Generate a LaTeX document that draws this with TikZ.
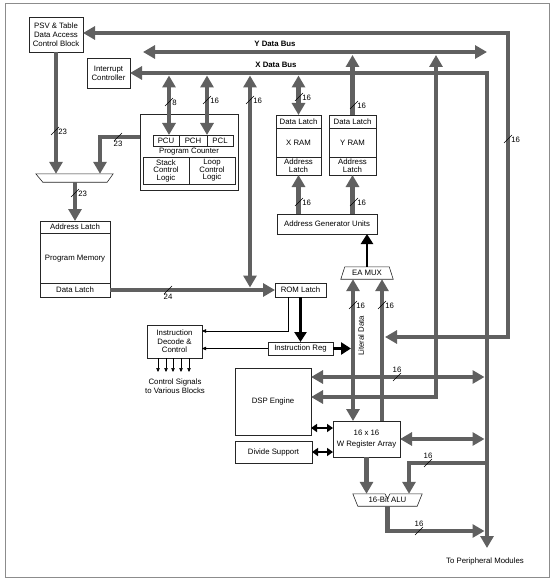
\documentclass[tikz,border=0pt]{standalone}
\usepackage{fontspec}
\setmainfont{Liberation Sans}
\usetikzlibrary{arrows.meta,positioning,calc}
\definecolor{busgray}{RGB}{96,96,96}
\definecolor{framegray}{RGB}{140,140,140}

\begin{document}
\begin{tikzpicture}[
    x=1pt, y=-1pt,
    font=\fontsize{7.8}{9}\selectfont,
    box/.style={draw=black!85, line width=0.6pt, fill=white, align=center, inner sep=1pt, outer sep=0pt},
    bus/.style={line width=4.5pt, draw=busgray, >={Triangle[length=12pt,width=13pt]}},
    sig/.style={line width=2.5pt, black, >={Triangle[length=10pt,width=12pt]}},
    sigsmall/.style={line width=2pt, black, >={Triangle[length=6pt,width=8pt]}},
    link/.style={line width=0.5pt, black, ->, >={Triangle[length=4pt,width=3.5pt]}},
    wmark/.style={line width=0.5pt, black}
]
    % Frame
    \useasboundingbox (0,0) rectangle (553,580);
    \draw[framegray, line width=0.8pt] (5,3) rectangle (549,577);

    % Bus columns and corners
    \coordinate (topR) at (508,33);
    \coordinate (litR) at (385,337);
    \coordinate (ybusL) at (143,52);
    \coordinate (ybusR) at (487,52);
    \coordinate (ybus) at (0,55);
    \coordinate (xbus) at (0,75.5);
    \coordinate (xbusR) at (487,73);
    \coordinate (perif) at (487,548);
    \coordinate (pbus) at (484.5,0);
    \coordinate (ycol) at (436,55);
    \coordinate (ylow) at (436,397);
    \coordinate (c8) at (169,75.5);
    \coordinate (c16) at (207,75.5);
    \coordinate (c250) at (250,75.5);
    \coordinate (romtop) at (250,287.5);
    \coordinate (pcout) at (100,137);
    \coordinate (colL) at (353,0);
    \coordinate (colR) at (382,0);
    \coordinate (aluin) at (409,463);
    \coordinate (aluout) at (387,531);

    % Blocks
    \node[box, minimum width=54pt, minimum height=35pt] (psv) at (56,34.5) {PSV \& Table\\Data Access\\Control Block};
    \node[box, minimum width=43pt, minimum height=30pt] (intc) at (108.5,73) {Interrupt\\Controller};

    \node[box, minimum width=98pt, minimum height=76pt] (pc) at (189,152) {};
    \node[box, minimum width=26pt, minimum height=11pt] (pcu) at (166,140.5) {PCU};
    \node[box, minimum width=28pt, minimum height=11pt, right=0pt of pcu] (pch) {PCH};
    \node[box, minimum width=26pt, minimum height=11pt, right=0pt of pch] (pcl) {PCL};
    \node (pclab) at (189,152) {Program Counter};
    \node[box, minimum width=46pt, minimum height=27pt, font=\fontsize{7.8}{7.5}\selectfont] (stack) at (166,170.5) {Stack\\Control\\Logic};
    \node[box, minimum width=46pt, minimum height=27pt, font=\fontsize{7.8}{7.5}\selectfont, right=0pt of stack] (loop) {Loop\\Control\\Logic};

    \node[minimum width=77pt, minimum height=8pt, inner sep=0pt] (pmux) at (74.5,178) {};
    \draw[box] (pmux.north west) -- (pmux.north east) -- ($(pmux.south east)+(-6,0)$) -- ($(pmux.south west)+(7,0)$) -- cycle;

    \node[box, minimum width=70pt, minimum height=76pt] (pmem) at (75,259) {Program Memory};
    \node[box, minimum width=70pt, minimum height=12pt, anchor=north] (alatch) at (pmem.north) {Address Latch};
    \node[box, minimum width=70pt, minimum height=14pt, anchor=south] (dlatch) at (pmem.south) {Data Latch};

    \node[box, minimum width=45pt, minimum height=13pt] (xdl) at (298.5,121.5) {Data Latch};
    \node[box, minimum width=45pt, minimum height=29pt, below=0pt of xdl] (xram) {X RAM};
    \node[box, minimum width=45pt, minimum height=18pt, below=0pt of xram, font=\fontsize{7.8}{8}\selectfont] (xal) {Address\\Latch};
    \node[box, minimum width=47pt, minimum height=13pt] (ydl) at (352.5,121.5) {Data Latch};
    \node[box, minimum width=47pt, minimum height=29pt, below=0pt of ydl] (yram) {Y RAM};
    \node[box, minimum width=47pt, minimum height=18pt, below=0pt of yram, font=\fontsize{7.8}{8}\selectfont] (yal) {Address\\Latch};

    \node[box, minimum width=100pt, minimum height=20pt] (agu) at (327,224) {Address Generator Units};

    \node[minimum width=52pt, minimum height=12pt, inner sep=0pt] (eamux) at (367,273) {EA MUX};
    \draw[box, fill=none] ($(eamux.north west)+(4,0)$) -- ($(eamux.north east)+(-4,0)$) -- (eamux.south east) -- (eamux.south west) -- cycle;

    \node[box, minimum width=51pt, minimum height=14pt] (romlatch) at (300.5,290) {ROM Latch};
    \node[box, minimum width=65pt, minimum height=13pt] (ireg) at (300.5,348.5) {Instruction Reg};
    \node[box, minimum width=55pt, minimum height=33pt, font=\fontsize{7.8}{8.5}\selectfont] (idec) at (174.5,341.5) {Instruction\\Decode \&\\Control};
    \node[align=center, font=\fontsize{7.8}{9}\selectfont] (ctrl) at (175,386) {Control Signals\\to Various Blocks};

    \node[box, minimum width=76pt, minimum height=67pt] (dsp) at (273,401.5) {DSP Engine};
    \node[box, minimum width=77pt, minimum height=22pt] (divs) at (273.5,452) {Divide Support};
    \node[box, minimum width=67pt, minimum height=36pt, font=\fontsize{7.8}{11}\selectfont] (wreg) at (366.5,439) {16 x 16\\W Register Array};

    \node[minimum width=69pt, minimum height=12pt, inner sep=0pt] (alu) at (387.5,500) {16-Bit ALU};
    \draw[box, fill=none] (alu.north west) -- ($(alu.north)+(-2.5,0)$) -- ($(alu.north)+(0,5)$) -- ($(alu.north)+(2.5,0)$) -- (alu.north east) -- ($(alu.south east)+(-5,0)$) -- ($(alu.south west)+(5,0)$) -- cycle;

    \node (perlab) at (485,561) {To Peripheral Modules};

    % Bus labels
    \node[font=\fontsize{7.8}{9}\selectfont\bfseries] (ylab) at (275,44) {Y Data Bus};
    \node[font=\fontsize{7.8}{9}\selectfont\bfseries] (xlab) at (276,65) {X Data Bus};
    \node[rotate=90] (litlab) at (361,336) {Literal Data};

    % Data buses
    \draw[bus,<->] (litR) -- (litR -| topR) -- (topR) -- (psv.east |- topR);
    \draw[bus,<->] (ybusL) -- (ybusR);
    \draw[bus,<->] (intc.east) -- (xbusR) -- (perif);
    \draw[bus,<->] (ycol) -- (ylow) -- (ylow -| dsp.east);

    % Program side
    \draw[bus,<->] (c8) -- (c8 |- pcu.north);
    \draw[bus,<->] (c16) -- (c16 |- pch.north);
    \draw[bus,<->] (c250) -- (romtop);
    \draw[bus,->] (psv.south) -- (psv.south |- pmux.north);
    \draw[bus,->] (pc.west |- pcout) -- (pcout) -- (pcout |- pmux.north);
    \draw[bus,->] (alatch.north |- pmux.south) -- (alatch.north);
    \draw[bus,->] (dlatch.east) -- (romlatch.west);

    % Data memory side
    \draw[bus,<->] (xdl.north |- xbus) -- (xdl.north);
    \draw[bus,->] (ydl.north) -- (ydl.north |- ybus);
    \draw[bus,->] (agu.north -| xal.south) -- (xal.south);
    \draw[bus,->] (agu.north -| yal.south) -- (yal.south);
    \draw[sig,->] (eamux.north) -- (eamux.north |- agu.south);
    \draw[bus,<->] (eamux.south -| colL) -- (wreg.north -| colL);
    \draw[bus,<-] (eamux.south -| colR) -- (wreg.north -| colR);

    % Instruction path
    \draw[sig,->] (romlatch.south) -- (ireg.north);
    \coordinate (litin) at ($(ireg.east -| colL)+(-2,0)$);
    \draw[sig,->] (ireg.east) -- (litin);
    \coordinate (romtap) at ($(romlatch.south)+(-12.5,0)$);
    \coordinate (decin) at ($(idec.east)+(0,-10.5)$);
    \draw[link] (romtap) |- (decin);
    \draw[link] (ireg.west) -- (ireg.west -| idec.east);
    \foreach \dx in {-16.5,-8.5,-1.5,6.5,14.5}
        \draw[link] ($(idec.south)+(\dx,0)$) -- ++(0,14);

    % Execution units
    \coordinate (dsp16) at ($(dsp.east)+(0,-24.5)$);
    \coordinate (dspw) at ($(dsp.east)+(0,26.5)$);
    \draw[bus,<->] (dsp16) -- (dsp16 -| pbus);
    \draw[sigsmall,<->] (dspw) -- (dspw -| wreg.west);
    \draw[sigsmall,<->] (divs.east) -- (divs.east -| wreg.west);
    \draw[bus,<->] (wreg.east) -- (wreg.east -| pbus);
    \draw[bus,->] (wreg.south) -- (wreg.south |- alu.north);
    \draw[bus,->] (aluin -| xbusR) -- (aluin) -- (aluin |- alu.north);
    \draw[bus,->] (alu.south) -- (alu.south |- aluout) -- (aluout -| pbus);

    % Bus widths
    \foreach \x/\y/\t in {55/131/23, 75/193/23, 169/102/8, 207/100/16, 250/100/16, 299/97/16, 354/105/16,
                          299/202/16, 354/202/16, 353/305/16, 382/305/16, 508/139/16}
        \draw[wmark] (\x-4,\y+4) -- (\x+4,\y-4) node[right, inner sep=1pt] at (\x+2,\y+1) {\t};
    \foreach \x/\y/\t/\p in {118/137/23/below, 168/290/24/below, 397/377/16/above, 428/463/16/above, 419/531/16/above}
        \draw[wmark] (\x-4,\y+4) -- (\x+4,\y-4) node[\p=3pt, inner sep=1pt] at (\x,\y) {\t};
\end{tikzpicture}
\end{document}
